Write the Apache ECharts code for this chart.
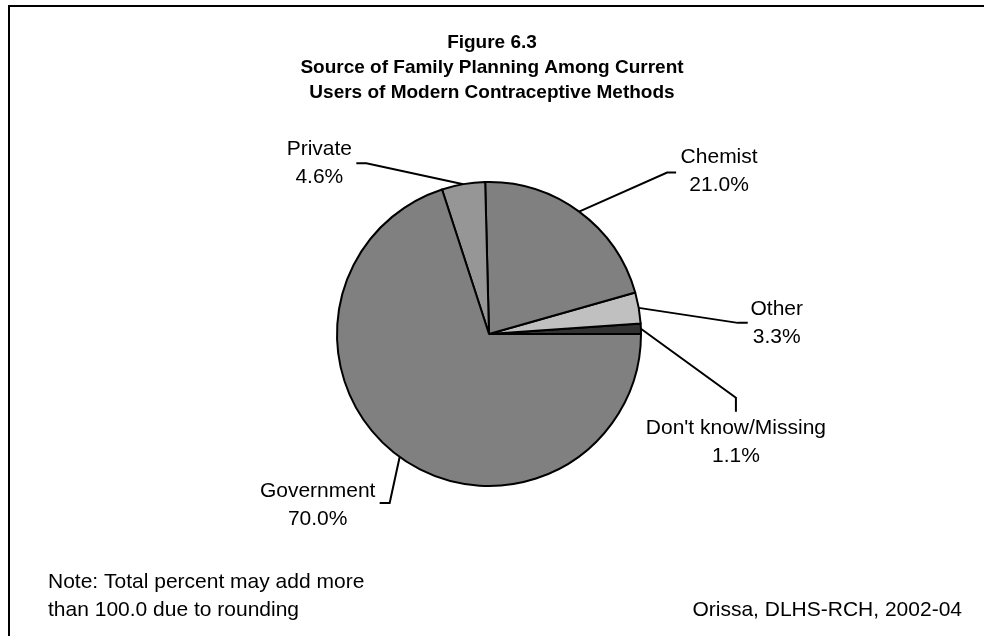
<!DOCTYPE html>
<html>
<head>
<meta charset="utf-8">
<title>Figure 6.3</title>
<script src="https://cdn.jsdelivr.net/npm/echarts@6/dist/echarts.min.js"></script>
<style>
  html, body { margin: 0; padding: 0; background: #ffffff; }
  #chart { width: 984px; height: 636px; }
</style>
</head>
<body>
<div id="chart"></div>
<script>
// Source of family planning, current users of modern methods (percent)
const sources = ['Don\'t know/Missing', 'Other', 'Chemist', 'Private', 'Government'];
const shares = [1.1, 3.3, 21.0, 4.6, 70.0];
const sliceColors = ['#333333', '#c0c0c0', '#808080', '#969696', '#808080'];

const titleLines = ['Figure 6.3', 'Source of Family Planning Among Current', 'Users of Modern Contraceptive Methods'];
const noteLines = ['Note: Total percent may add more', 'than 100.0 due to rounding'];
const sourceNote = 'Orissa, DLHS-RCH, 2002-04';

const FONT = 'Liberation Sans, Arial, Helvetica, sans-serif';
const TEXT_SIZE = 21;
const TEXT_LINE = 28;

// Leader-line geometry for each slice, relative to the slice's outer mid-point:
// bend = first segment, tail = second segment, text = label anchor offset from the tail end
const leaders = [
  { bend: [95, 69],   tail: [0, 14],  text: [0, 2],    valign: 'top' },
  { bend: [99, 15],   tail: [10, 0],  text: [29, 0],   valign: 'middle' },
  { bend: [88, -39],  tail: [9, 0],   text: [43, -1],  valign: 'middle' },
  { bend: [-97, -21], tail: [-10, 0], text: [-37, 0],  valign: 'middle' },
  { bend: [-10, 46],  tail: [-10, 0], text: [-62, 2],  valign: 'middle' }
];

const chart = echarts.init(document.getElementById('chart'), null, { renderer: 'canvas' });

const option = {
  backgroundColor: '#ffffff',
  animation: false,
  title: {
    text: titleLines.join('\n'),
    left: 'center',
    top: 30,
    padding: 0,
    textStyle: {
      fontFamily: FONT,
      fontSize: 19,
      fontWeight: 'bold',
      color: '#000000',
      lineHeight: 25
    }
  },
  graphic: [
    {
      type: 'rect',
      shape: { x: 9, y: 6, width: 1000, height: 700 },
      style: { fill: 'none', stroke: '#000000', lineWidth: 2 },
      silent: true,
      z: -1
    },
    {
      type: 'text',
      left: 48,
      top: 568,
      style: {
        text: noteLines.join('\n'),
        font: TEXT_SIZE + 'px ' + FONT,
        fill: '#000000',
        lineHeight: TEXT_LINE
      }
    },
    {
      type: 'text',
      right: 22,
      top: 596,
      style: {
        text: sourceNote,
        font: TEXT_SIZE + 'px ' + FONT,
        fill: '#000000',
        lineHeight: TEXT_LINE,
        textAlign: 'right'
      }
    }
  ],
  series: [
    {
      type: 'pie',
      center: [489, 334],
      radius: 152,
      startAngle: 0,
      clockwise: false,
      avoidLabelOverlap: false,
      itemStyle: { borderColor: '#000000', borderWidth: 2 },
      label: {
        show: true,
        position: 'outside',
        formatter: p => p.name + '\n' + p.value.toFixed(1) + '%',
        fontFamily: FONT,
        fontSize: TEXT_SIZE,
        lineHeight: TEXT_LINE,
        color: '#000000',
        align: 'center'
      },
      labelLine: {
        show: true,
        length: 20,
        length2: 10,
        lineStyle: { color: '#000000', width: 2 }
      },
      labelLayout: function (params) {
        const g = leaders[params.dataIndex];
        const p0 = params.labelLinePoints[0];
        const p1 = [p0[0] + g.bend[0], p0[1] + g.bend[1]];
        const p2 = [p1[0] + g.tail[0], p1[1] + g.tail[1]];
        return {
          x: p2[0] + g.text[0],
          y: p2[1] + g.text[1],
          align: 'center',
          verticalAlign: g.valign,
          labelLinePoints: [p0, p1, p2]
        };
      },
      emphasis: { disabled: true },
      data: sources.map((name, i) => ({
        name: name,
        value: shares[i],
        itemStyle: { color: sliceColors[i] }
      }))
    }
  ]
};

chart.setOption(option);
</script>
</body>
</html>
